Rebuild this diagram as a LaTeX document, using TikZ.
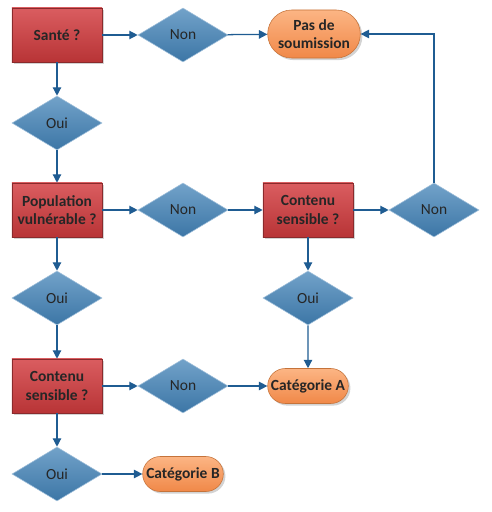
\documentclass[tikz,border=0pt]{standalone}
\usepackage{fontspec}
\setmainfont{Carlito}
\usetikzlibrary{shapes.geometric,shapes.misc,arrows.meta,shadows}
\definecolor{linkblue}{HTML}{1F5C92}
\definecolor{qtop}{HTML}{DA5D60}
\definecolor{qbot}{HTML}{B83436}
\definecolor{qline}{HTML}{8A2A2C}
\definecolor{dtop}{HTML}{72A2C9}
\definecolor{dbot}{HTML}{3C76A6}
\definecolor{dline}{HTML}{9FBFDA}
\definecolor{ttop}{HTML}{FCB584}
\definecolor{tbot}{HTML}{F08848}
\definecolor{tline}{HTML}{C5733A}
\begin{document}
\begin{tikzpicture}[x=0.025cm, y=-0.025cm, font=\fontsize{11}{13}\selectfont\bfseries,
  question/.style={draw=qline, top color=qtop, bottom color=qbot, minimum width=2.25cm, minimum height=1.35cm, align=center, text=black!85, drop shadow={opacity=0.35, shadow xshift=1.5pt, shadow yshift=-1.5pt}},
  answer/.style={diamond, draw=dline, top color=dtop, bottom color=dbot, minimum width=2.25cm, minimum height=1.35cm, aspect=1.67, inner sep=0pt, text=black!85, font=\fontsize{11}{13}\selectfont},
  outcome/.style={rounded rectangle, draw=tline, top color=ttop, bottom color=tbot, minimum width=2.25cm, minimum height=0.875cm, align=center, text=black!85, drop shadow={opacity=0.35, shadow xshift=1.5pt, shadow yshift=-1.5pt}},
  link/.style={-{Triangle[length=6pt, width=6pt]}, line width=0.9pt, linkblue}]
\useasboundingbox (0,0) rectangle (492,512);
% first column
\node[question] (sante) at (57,35) {Santé ?};
\node[answer] (oui1) at (57,123) {Oui};
\node[question] (pop) at (57,210) {Population\\vulnérable ?};
\node[answer] (oui2) at (57,298) {Oui};
\node[question] (cont2) at (57,386) {Contenu\\sensible ?};
\node[answer] (oui3) at (57,474) {Oui};
% second column
\node[answer] (non1) at (183,35) {Non};
\node[answer] (non2) at (183,210) {Non};
\node[answer] (non4) at (183,386) {Non};
\node[outcome] (catb) at (183,474) {Catégorie B};
% third column
\node[outcome, minimum width=2.55cm, minimum height=1.2cm] (pas) at (314,34) {Pas de\\soumission};
\node[question] (cont1) at (308,210) {Contenu\\sensible ?};
\node[answer] (oui4) at (308,298) {Oui};
\node[outcome] (cata) at (308,386) {Catégorie A};
% fourth column
\node[answer] (non3) at (434,210) {Non};
% connectors
\draw[link] (sante) -- (non1);
\draw[link] (non1) -- (pas);
\draw[link] (sante) -- (oui1);
\draw[link] (oui1) -- (pop);
\draw[link] (pop) -- (non2);
\draw[link] (non2) -- (cont1);
\draw[link] (cont1) -- (non3);
\draw[link] (non3.north) |- (pas.east);
\draw[link] (cont1) -- (oui4);
\draw[link] (oui4) -- (cata);
\draw[link] (pop) -- (oui2);
\draw[link] (oui2) -- (cont2);
\draw[link] (cont2) -- (non4);
\draw[link] (non4) -- (cata);
\draw[link] (cont2) -- (oui3);
\draw[link] (oui3) -- (catb);
\end{tikzpicture}
\end{document}
